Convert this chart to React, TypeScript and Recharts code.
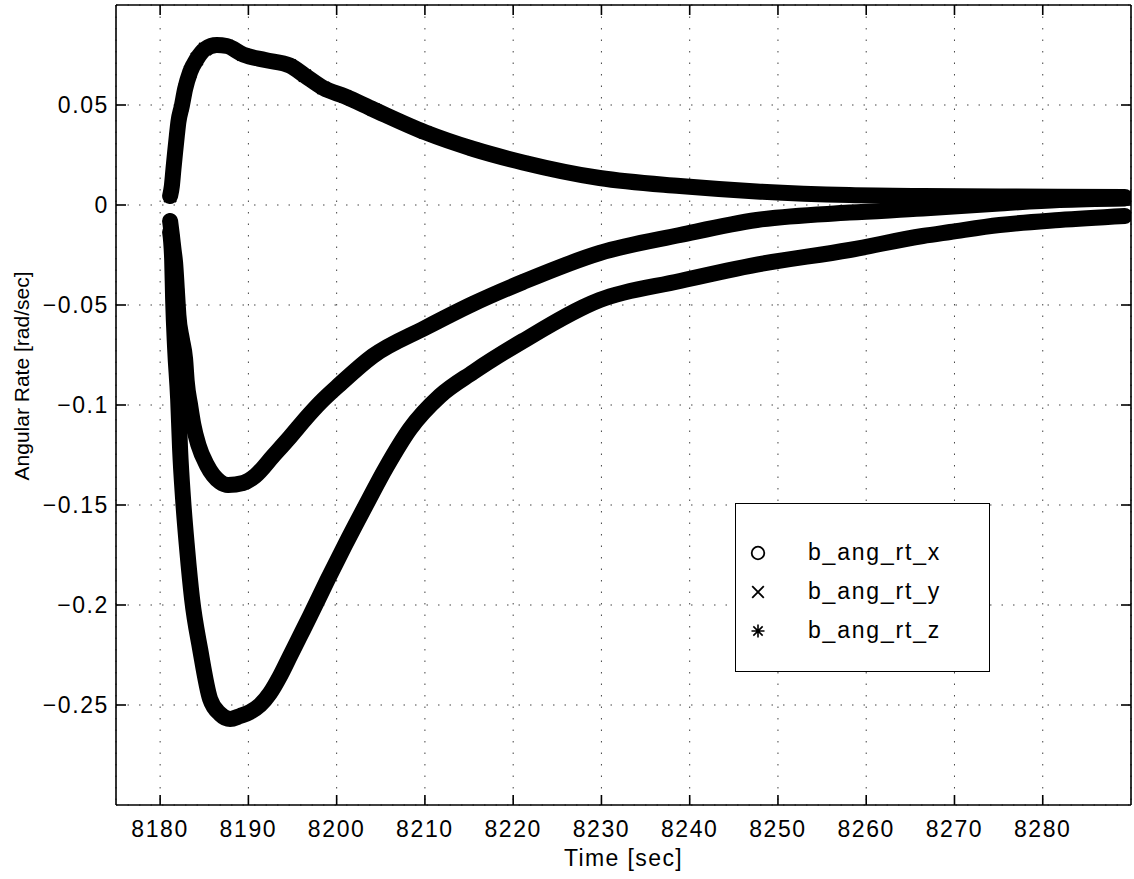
import {
    CartesianGrid,
    ComposedChart,
    Legend,
    Line,
    ReferenceLine,
    Scatter,
    XAxis,
    YAxis,
} from 'recharts';

const timeTicks = [8180, 8190, 8200, 8210, 8220, 8230, 8240, 8250, 8260, 8270, 8280];
const rateTicks = [-0.25, -0.2, -0.15, -0.1, -0.05, 0, 0.05];
const timeDomain = [8175, 8290];
const rateDomain = [-0.3, 0.1];

// b_ang_rt_x (circles)
const rateXTime = [
    8181.13, 8181.33, 8181.51, 8181.7, 8181.89, 8182.07, 8182.46, 8182.83, 8183.02, 8183.4,
    8183.77, 8184.34, 8185.29, 8186.8, 8187.7, 8189.4, 8190.76, 8192.8, 8194.72, 8196.64,
    8198.1, 8200.4, 8204.1, 8210.0, 8215.4, 8221.1, 8229.8, 8238.9, 8247.6, 8258.1,
    8266.4, 8275.1, 8281.9, 8289.3,
];
const rateXVal = [
    -0.008, -0.015, -0.022, -0.029, -0.042, -0.055, -0.067, -0.077, -0.0885, -0.1,
    -0.11, -0.12, -0.13, -0.1385, -0.14, -0.139, -0.1355, -0.1255, -0.116, -0.106,
    -0.099, -0.0895, -0.0755, -0.0615, -0.0495, -0.0385, -0.024, -0.015, -0.0075, -0.0038,
    -0.0018, 0.0008, 0.0025, 0.0033,
];

// b_ang_rt_y (crosses)
const rateYTime = [
    8181.13, 8181.33, 8181.51, 8181.7, 8181.89, 8182.07, 8182.46, 8182.83, 8183.4, 8184.16,
    8185.1, 8186.42, 8187.55, 8189.43, 8191.9, 8194.72, 8196.4, 8198.5, 8200.95, 8204.2,
    8210.05, 8215.5, 8221.1, 8229.8, 8238.9, 8247.6, 8258.1, 8266.4, 8275.1, 8289.3,
];
const rateYVal = [
    0.0045, 0.0095, 0.018, 0.0265, 0.0345, 0.0415, 0.0495, 0.058, 0.0665, 0.073,
    0.078, 0.08, 0.0795, 0.0752, 0.0725, 0.0697, 0.0647, 0.0585, 0.0543, 0.0477,
    0.0363, 0.028, 0.0213, 0.0135, 0.0095, 0.0068, 0.005, 0.0045, 0.0043, 0.004,
];

// b_ang_rt_z (asterisks)
const rateZTime = [
    8181.13, 8181.36, 8181.47, 8181.7, 8182.04, 8182.26, 8182.6, 8183.06, 8183.62, 8184.53,
    8185.66, 8186.8, 8187.93, 8189.06, 8190.19, 8191.32, 8192.46, 8193.59, 8194.72, 8195.85,
    8196.98, 8198.9, 8200.95, 8203.2, 8205.7, 8208.3, 8211.7, 8215.5, 8221.1, 8229.8,
    8238.9, 8247.6, 8258.1, 8266.4, 8269.5, 8275.1, 8281.9, 8289.3,
];
const rateZVal = [
    -0.0135, -0.027, -0.047, -0.072, -0.097, -0.122, -0.147, -0.172, -0.197, -0.222,
    -0.247, -0.2545, -0.257, -0.2555, -0.2535, -0.25, -0.244, -0.2355, -0.2255, -0.2155,
    -0.2055, -0.188, -0.17, -0.151, -0.1305, -0.112, -0.0955, -0.0835, -0.068, -0.0475,
    -0.038, -0.0298, -0.0225, -0.0155, -0.0135, -0.01, -0.0075, -0.0055,
];

const zip = (ts: number[], vs: number[]) => ts.map((t, i) => ({ t, v: vs[i] }));
const dataX = zip(rateXTime, rateXVal);
const dataY = zip(rateYTime, rateYVal);
const dataZ = zip(rateZTime, rateZVal);

const FONT = '"Liberation Sans", Arial, Helvetica, sans-serif';
const INK = '#000';
// frame of the plot box, in pixels
const BOX = { left: 116, right: 1131, top: 5, bottom: 805 };
const TICK_LEN = 10;

const circleMark = (cx: number, cy: number, r = 5.5) => (
    <circle cx={cx} cy={cy} r={r} fill="none" stroke={INK} strokeWidth={1.8} />
);
const crossMark = (cx: number, cy: number, s = 5) => (
    <path
        d={`M${cx - s},${cy - s}L${cx + s},${cy + s}M${cx - s},${cy + s}L${cx + s},${cy - s}`}
        stroke={INK}
        strokeWidth={1.8}
        fill="none"
    />
);
const starMark = (cx: number, cy: number, s = 6) => {
    const d = s * 0.72;
    return (
        <path
            d={`M${cx},${cy - s}L${cx},${cy + s}M${cx - s},${cy}L${cx + s},${cy}M${cx - d},${cy - d}L${cx + d},${cy + d}M${cx - d},${cy + d}L${cx + d},${cy - d}`}
            stroke={INK}
            strokeWidth={1.6}
            fill="none"
        />
    );
};

const legendMarks: Record<string, (cx: number, cy: number) => React.ReactElement> = {
    b_ang_rt_x: (cx, cy) => circleMark(cx, cy, 6.3),
    b_ang_rt_y: (cx, cy) => crossMark(cx, cy, 5.8),
    b_ang_rt_z: (cx, cy) => starMark(cx, cy, 6.5),
};

const fmtRate = (v: number) => (v === 0 ? '0' : (v < 0 ? '\u2212' : '') + String(Math.abs(v)));

const textProps = {
    fontSize: 23,
    fontFamily: FONT,
    fill: INK,
    letterSpacing: 1.6,
};

// inward ticks on both opposite sides of the box (MATLAB style), labels outside
const BottomTick = (p: any) => (
    <g>
        <line x1={p.x} x2={p.x} y1={BOX.bottom} y2={BOX.bottom - TICK_LEN} stroke={INK} strokeWidth={1.6} />
        <line x1={p.x} x2={p.x} y1={BOX.top} y2={BOX.top + TICK_LEN} stroke={INK} strokeWidth={1.6} />
        <text x={p.x} y={BOX.bottom + 32} textAnchor="middle" {...textProps}>
            {p.payload.value}
        </text>
    </g>
);
const LeftTick = (p: any) => (
    <g>
        <line x1={BOX.left} x2={BOX.left + TICK_LEN} y1={p.y} y2={p.y} stroke={INK} strokeWidth={1.6} />
        <line x1={BOX.right} x2={BOX.right - TICK_LEN} y1={p.y} y2={p.y} stroke={INK} strokeWidth={1.6} />
        <text x={BOX.left - 7} y={p.y + 8} textAnchor="end" {...textProps}>
            {fmtRate(p.payload.value)}
        </text>
    </g>
);

function LegendBox({ payload }: any) {
    const items = (payload || []).filter((p: any) => legendMarks[p.value]);
    return (
        <div
            style={{
                width: 255,
                height: 169,
                boxSizing: 'border-box',
                border: `1.5px solid ${INK}`,
                background: '#fff',
                paddingTop: 29,
                fontFamily: FONT,
                fontSize: 23,
                letterSpacing: 1.8,
                color: INK,
            }}
        >
            {items.map((item: any) => (
                <div
                    key={item.value}
                    style={{ height: 39, display: 'flex', alignItems: 'center' }}
                >
                    <svg width={72} height={20} style={{ flex: 'none' }}>
                        {legendMarks[item.value](22, 10)}
                    </svg>
                    <span>{item.value}</span>
                </div>
            ))}
        </div>
    );
}

export default function App() {
    const bandProps = {
        dataKey: 'v',
        type: 'monotone' as const,
        stroke: INK,
        strokeWidth: 16,
        strokeLinejoin: 'round' as const,
        strokeLinecap: 'round' as const,
        dot: false,
        activeDot: false,
        legendType: 'none' as const,
        isAnimationActive: false,
    };
    const axisLine = { stroke: INK, strokeWidth: 1.6 };
    return (
        <div style={{ width: 1134, height: 879, background: '#fff' }}>
            <style>{'body{margin:0;background:#fff}'}</style>
            <ComposedChart
                width={1134}
                height={879}
                margin={{ top: 5, right: 3, bottom: 0, left: 0 }}
                style={{ fontFamily: FONT }}
            >
                <CartesianGrid stroke="#444" strokeWidth={1} strokeDasharray="1.5 10" />
                <XAxis
                    dataKey="t"
                    type="number"
                    domain={timeDomain}
                    ticks={timeTicks}
                    interval={0}
                    allowDataOverflow
                    height={74}
                    tickLine={false}
                    tick={<BottomTick />}
                    axisLine={axisLine}
                    label={(props: any) => {
                        const vb = props.viewBox || { x: 116, y: 805, width: 1015, height: 74 };
                        return (
                            <text
                                x={vb.x + vb.width / 2}
                                y={vb.y + 61}
                                textAnchor="middle"
                                fontSize={23}
                                letterSpacing={1.4}
                                fontFamily={FONT}
                                fill={INK}
                            >
                                Time [sec]
                            </text>
                        );
                    }}
                />
                <YAxis
                    dataKey="v"
                    type="number"
                    domain={rateDomain}
                    ticks={rateTicks}
                    interval={0}
                    allowDataOverflow
                    width={116}
                    tickLine={false}
                    tick={<LeftTick />}
                    axisLine={axisLine}
                    label={(props: any) => {
                        const vb = props.viewBox || { x: 0, y: 5, width: 116, height: 800 };
                        const cx = vb.x + 29;
                        const cy = vb.y + vb.height / 2 - 29;
                        return (
                            <text
                                x={cx}
                                y={cy}
                                transform={`rotate(-90, ${cx}, ${cy})`}
                                textAnchor="middle"
                                fontSize={21}
                                fontFamily={FONT}
                                fill={INK}
                            >
                                Angular Rate [rad/sec]
                            </text>
                        );
                    }}
                />
                <ReferenceLine y={rateDomain[1]} stroke={INK} strokeWidth={1.6} />
                <ReferenceLine x={timeDomain[1]} stroke={INK} strokeWidth={1.6} />
                <Line data={dataX} {...bandProps} />
                <Line data={dataY} {...bandProps} />
                <Line data={dataZ} {...bandProps} />
                <Scatter
                    name="b_ang_rt_x"
                    data={dataX}
                    dataKey="v"
                    fill={INK}
                    shape={(p: any) => circleMark(p.cx, p.cy, 6.5)}
                    isAnimationActive={false}
                />
                <Scatter
                    name="b_ang_rt_y"
                    data={dataY}
                    dataKey="v"
                    fill={INK}
                    shape={(p: any) => crossMark(p.cx, p.cy, 6)}
                    isAnimationActive={false}
                />
                <Scatter
                    name="b_ang_rt_z"
                    data={dataZ}
                    dataKey="v"
                    fill={INK}
                    shape={(p: any) => starMark(p.cx, p.cy, 7)}
                    isAnimationActive={false}
                />
                <Legend
                    layout="vertical"
                    align="center"
                    verticalAlign="middle"
                    content={<LegendBox />}
                    wrapperStyle={{ left: 735, top: 503, width: 255, height: 169 }}
                />
            </ComposedChart>
        </div>
    );
}
